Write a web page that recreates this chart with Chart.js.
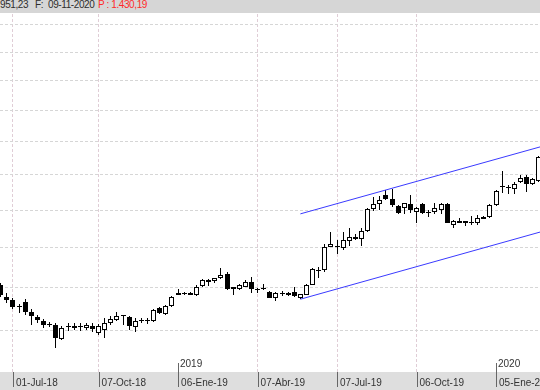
<!DOCTYPE html>
<html>
<head>
<meta charset="utf-8">
<script src="https://cdn.jsdelivr.net/npm/chart.js@4.4.1/dist/chart.umd.min.js"></script>
<style>
  body { margin: 0; background: #fff; }
  #wrap { position: relative; width: 540px; height: 390px; overflow: hidden; }
  #head { position: absolute; left: 0; top: 0; width: 540px; height: 13px; background: #d6d6d6;
          font: 10px "Liberation Sans", Arial, sans-serif; color: #2e2e2e; z-index: 2; }
  #head span { position: absolute; top: 0; line-height: 10px; white-space: nowrap; letter-spacing: -0.4px; }
  #head .p { color: #ff2a2a; }
  canvas { position: absolute; left: 0; top: 0; }
</style>
</head>
<body>
<div id="wrap">
  <div id="head">
    <span style="left:0">951,23</span>
    <span style="left:35px">F:</span>
    <span style="left:48px">09-11-2020</span>
    <span class="p" style="left:98px">P : 1.430,19</span>
  </div>
  <canvas id="chart" width="540" height="390"></canvas>
</div>
<script>
// weekly candles, week 0 = 01-Jul-18
const firstWeek = -2;

const opens = [
  14.07, 13.79, 13.71, 13.55, 13.66, 13.43, 13.32, 13.23, 13.15, 13.13,
  12.82, 13.11, 13.11, 13.09, 13.07, 13.11, 12.96, 13.02, 13.18, 13.25,
  13.35, 13.31, 13.10, 13.225, 13.225, 13.225, 13.52, 13.38, 13.57, 13.82,
  13.87, 13.88, 13.83, 14.05, 14.15, 14.16, 14.23, 14.34, 13.97, 13.97,
  14.02, 14.15, 13.95, 13.965, 13.90, 13.77, 13.85, 13.83, 13.89, 13.75,
  13.84, 14.08, 14.41, 14.43, 15.02, 15.02, 14.99, 15.18, 15.29, 15.22,
  15.44, 16.03, 16.16, 16.42, 16.30, 16.12, 16.07, 16.16, 15.95, 16.16,
  15.94, 15.94, 16.01, 16.16, 15.61, 15.71, 15.64, 15.66, 15.64, 15.81,
  15.81, 16.14, 16.67, 16.62, 16.59, 16.80, 16.94, 16.75, 16.83
];
const highs = [
  14.12, 13.88, 13.77, 13.62, 13.73, 13.49, 13.36, 13.27, 13.21, 13.17,
  13.11, 13.18, 13.17, 13.18, 13.18, 13.17, 13.16, 13.29, 13.33, 13.44,
  13.36, 13.34, 13.29, 13.29, 13.29, 13.50, 13.54, 13.60, 13.81, 13.97,
  13.91, 13.91, 14.06, 14.22, 14.22, 14.25, 14.48, 14.39, 14.03, 14.10,
  14.19, 14.27, 14.00, 14.10, 13.92, 13.89, 13.92, 13.89, 14.02, 13.86,
  14.10, 14.48, 14.52, 15.11, 15.42, 15.20, 15.40, 15.51, 15.36, 15.51,
  16.06, 16.38, 16.39, 16.57, 16.59, 16.14, 16.20, 16.42, 16.10, 16.19,
  16.01, 16.19, 16.21, 16.20, 15.72, 15.79, 15.71, 15.84, 15.87, 15.83,
  16.17, 16.57, 17.13, 16.70, 16.80, 17.01, 17.01, 16.90, 17.56
];
const lows = [
  13.78, 13.64, 13.49, 13.41, 13.36, 13.13, 13.17, 13.07, 13.10, 12.62,
  12.80, 13.00, 13.02, 13.00, 13.02, 12.98, 12.91, 12.85, 13.13, 13.23,
  13.13, 13.02, 12.98, 13.19, 13.16, 13.20, 13.39, 13.36, 13.55, 13.82,
  13.83, 13.83, 13.81, 14.03, 14.04, 14.12, 14.21, 13.95, 13.84, 13.95,
  14.01, 13.88, 13.87, 13.96, 13.76, 13.69, 13.80, 13.81, 13.79, 13.73,
  13.83, 14.06, 14.23, 14.40, 15.01, 14.84, 14.94, 15.05, 15.19, 15.05,
  15.41, 15.98, 16.01, 16.28, 16.10, 15.90, 15.90, 15.93, 15.65, 15.90,
  15.81, 15.89, 15.89, 15.64, 15.52, 15.64, 15.56, 15.61, 15.61, 15.75,
  15.79, 16.11, 16.47, 16.44, 16.45, 16.78, 16.51, 16.72, 16.80
];
const closes = [
  13.83, 13.71, 13.55, 13.54, 13.44, 13.34, 13.24, 13.13, 13.145, 12.84,
  13.07, 13.09, 13.07, 13.08, 13.13, 13.04, 13.11, 13.18, 13.28, 13.34,
  13.355, 13.11, 13.23, 13.22, 13.23, 13.48, 13.40, 13.57, 13.79, 13.87,
  13.865, 13.84, 14.03, 14.20, 14.19, 14.23, 14.31, 13.97, 14.01, 14.07,
  14.15, 13.97, 13.945, 13.97, 13.77, 13.88, 13.855, 13.88, 13.80, 13.85,
  14.07, 14.45, 14.405, 15.02, 15.11, 15.015, 15.19, 15.29, 15.22, 15.44,
  16.03, 16.16, 16.28, 16.30, 16.14, 15.93, 16.19, 16.01, 16.07, 15.92,
  15.93, 16.06, 16.16, 15.66, 15.71, 15.66, 15.70, 15.665, 15.78, 15.77,
  16.14, 16.55, 16.66, 16.61, 16.74, 16.92, 16.75, 16.87, 17.52
];

// trend channel (week, price)
const channelWeeks = [47, 86.2];
const channelUpper = [15.90, 17.84];
const channelLower = [13.73, 15.41];

// axes
const priceGrid = [13, 14, 15, 16, 17, 18, 19, 20, 21, 22];
const tickWeeks = [0, 14, 27, 40, 53, 66, 79];
const tickLabels = ["01-Jul-18", "07-Oct-18", "06-Ene-19", "07-Abr-19", "07-Jul-19", "06-Oct-19", "05-Ene-20"];
const yearWeeks = [27, 79];
const yearLabels = ["2019", "2020"];

const weeks = opens.map((_, i) => firstWeek + i);
const isUp = opens.map((o, i) => closes[i] >= o);

const wicks = weeks.map((w, i) => ({ x: w, y: [lows[i], highs[i]] }));
const bodies = weeks.map((w, i) => ({ x: w, y: [opens[i], closes[i]] }));

const axisFont = { family: "'Liberation Sans', Arial, sans-serif", size: 10 };

// snap candle bars to whole pixels so wicks stay 1px sharp
const snapBars = {
  id: "snapBars",
  afterDatasetsUpdate(chart) {
    chart.data.datasets.forEach((ds, i) => {
      const meta = chart.getDatasetMeta(i);
      if (meta.type !== "bar") return;
      meta.data.forEach(el => {
        el.x = Math.floor(el.x) + 0.5;
        let y = Math.round(el.y), base = Math.round(el.base);
        if (y === base) y = base - 1;
        el.y = y;
        el.base = base;
      });
    });
  }
};

// gray band under the plot, year ticks and labels
const frame = {
  id: "frame",
  beforeDraw(chart) {
    const { ctx, chartArea: a } = chart;
    ctx.save();
    ctx.fillStyle = "#fff";
    ctx.fillRect(0, 0, chart.width, chart.height);
    ctx.fillStyle = "#dedede";
    ctx.fillRect(0, a.bottom, chart.width, chart.height - a.bottom);
    ctx.restore();
  },
  afterDraw(chart) {
    const { ctx, chartArea: a, scales: { x } } = chart;
    ctx.save();
    ctx.strokeStyle = "#666";
    ctx.lineWidth = 1;
    tickWeeks.forEach(w => {
      const px = Math.round(x.getPixelForValue(w)) + 0.5;
      const top = yearWeeks.includes(w) ? a.bottom - 9 : a.bottom;
      ctx.beginPath();
      ctx.moveTo(px, top);
      ctx.lineTo(px, a.bottom + 15);
      ctx.stroke();
    });
    ctx.fillStyle = "#333";
    ctx.font = "10px 'Liberation Sans', Arial, sans-serif";
    ctx.textBaseline = "middle";
    yearWeeks.forEach((w, i) => {
      const px = Math.round(x.getPixelForValue(w));
      ctx.fillText(yearLabels[i], px + 2, a.bottom - 8);
    });
    ctx.restore();
  }
};

new Chart(document.getElementById("chart"), {
  type: "bar",
  data: {
    datasets: [
      {
        type: "line",
        data: channelWeeks.map((w, i) => ({ x: w, y: channelUpper[i] })),
        borderColor: "#3a3aff",
        borderWidth: 1,
        pointRadius: 0,
        order: 0
      },
      {
        type: "line",
        data: channelWeeks.map((w, i) => ({ x: w, y: channelLower[i] })),
        borderColor: "#3a3aff",
        borderWidth: 1,
        pointRadius: 0,
        order: 0
      },
      {
        data: bodies,
        backgroundColor: isUp.map(u => (u ? "#fff" : "#000")),
        borderColor: "#000",
        borderWidth: 1,
        borderSkipped: false,
        grouped: false,
        barThickness: 5,
        maxBarThickness: 5,
        minBarLength: 1,
        inflateAmount: 0,
        order: 1
      },
      {
        data: wicks,
        backgroundColor: "#000",
        borderWidth: 0,
        grouped: false,
        barThickness: 1,
        maxBarThickness: 1,
        inflateAmount: 0,
        order: 2
      }
    ]
  },
  options: {
    responsive: false,
    animation: false,
    events: [],
    layout: { padding: { top: 14, left: 0, right: 0, bottom: 0 } },
    plugins: { legend: { display: false }, tooltip: { enabled: false } },
    scales: {
      x: {
        type: "linear",
        min: -2.126,
        max: 86.19,
        offset: false,
        afterBuildTicks: s => { s.ticks = tickWeeks.map(v => ({ value: v })); },
        afterFit: s => { s.height = 18; s.paddingLeft = 0; s.paddingRight = 0; },
        grid: {
          offset: false,
          drawTicks: false,
          color: c => (c.tick && yearWeeks.includes(c.tick.value) ? "rgba(0,0,0,0)" : "#e0cdd6")
        },
        border: { display: false, dash: [3, 2] },
        ticks: {
          autoSkip: false,
          maxRotation: 0,
          align: "start",
          labelOffset: 3,
          padding: 5,
          color: "#333",
          font: axisFont,
          callback: v => tickLabels[tickWeeks.indexOf(v)]
        }
      },
      y: {
        type: "logarithmic",
        min: 12.115,
        max: 22.42,
        afterBuildTicks: s => { s.ticks = priceGrid.map(v => ({ value: v })); },
        afterFit: s => { s.width = 0; },
        grid: { drawTicks: false, color: "#d6d6d6" },
        border: { display: false, dash: [3, 2] },
        ticks: { display: false }
      }
    }
  },
  plugins: [snapBars, frame]
});
</script>
</body>
</html>
